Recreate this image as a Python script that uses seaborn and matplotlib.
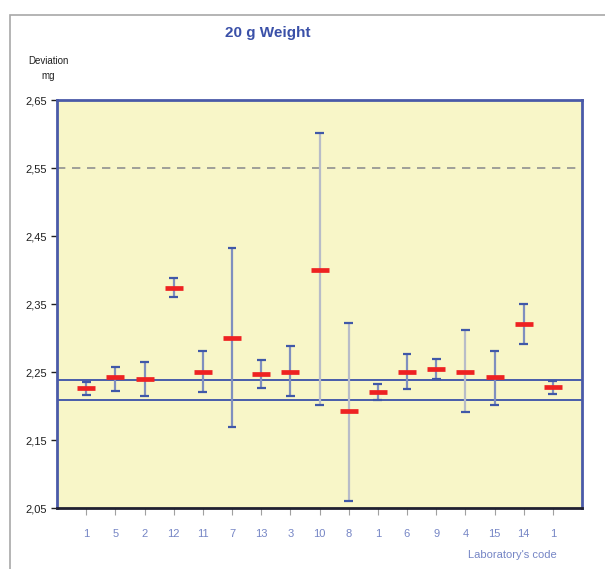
import matplotlib
matplotlib.use("Agg")
import matplotlib.pyplot as plt
import seaborn as sns
import pandas as pd
from matplotlib.patches import Rectangle

labs = ["1", "5", "2", "12", "11", "7", "13", "3", "10", "8", "1", "6", "9", "4", "15", "14", "1"]
means = [2.226, 2.242, 2.240, 2.374, 2.250, 2.300, 2.247, 2.250, 2.400, 2.192, 2.220, 2.250, 2.255, 2.250, 2.242, 2.321, 2.228]
upper = [2.236, 2.258, 2.264, 2.388, 2.281, 2.433, 2.267, 2.288, 2.601, 2.322, 2.232, 2.276, 2.269, 2.312, 2.281, 2.350, 2.237]
lower = [2.216, 2.222, 2.214, 2.361, 2.221, 2.169, 2.227, 2.214, 2.201, 2.061, 2.209, 2.225, 2.240, 2.191, 2.201, 2.291, 2.218]
ref_upper = 2.238
ref_lower = 2.209
limit = 2.55
yticks = [2.05, 2.15, 2.25, 2.35, 2.45, 2.55, 2.65]

df = pd.DataFrame({"pos": range(len(labs)), "lab": labs, "mean": means,
                   "upper": upper, "lower": lower})

sns.set_theme(style="white")
plt.rcParams["font.family"] = ["Liberation Sans Narrow", "Liberation Sans", "DejaVu Sans"]

fig = plt.figure(figsize=(6.05, 5.69), dpi=100)
ax = fig.add_axes([57/605, 1-508/569, 525/605, 408/569])
ax.set_facecolor("#f8f6c8")

# outer frame
fig.patches.append(Rectangle((10/605, -0.01), 1.0, 1-15/569+0.01, transform=fig.transFigure,
                             fill=False, edgecolor="#a8a8a8", linewidth=1.2))

# error bars
line_cols = ["#7f8fbf"] * len(labs)
for i in (8, 9, 13):
    line_cols[i] = "#b8bcc8"
for i, r in df.iterrows():
    ax.vlines(r["pos"], r["lower"], r["upper"], color=line_cols[i], linewidth=1.6, zorder=2)
    ax.hlines([r["lower"], r["upper"]], r["pos"] - 0.15, r["pos"] + 0.15, color="#4058a8",
              linewidth=1.6, zorder=3)

ax.axhline(ref_upper, color="#3a50a8", linewidth=1.3, zorder=1)
ax.axhline(ref_lower, color="#3a50a8", linewidth=1.3, zorder=1)
ax.axhline(limit, color="#909090", linewidth=1.2, linestyle=(0, (5, 4)), zorder=1)

sns.scatterplot(data=df, x="pos", y="mean", marker="_", s=150, color="#ee2222",
                linewidth=3.4, ax=ax, zorder=4, legend=False)

ax.set_xlim(-1, len(labs))
ax.set_ylim(2.05, 2.65)
ax.set_yticks(yticks)
ax.set_yticklabels([f"{v:.2f}".replace(".", ",") for v in yticks], fontsize=8, color="#202020")
ax.set_xticks(df["pos"])
ax.set_xticklabels(labs, fontsize=8, color="#7585c5")
ax.tick_params(axis="y", direction="out", length=4, width=1, color="#202020", left=True, pad=3)
ax.tick_params(axis="x", direction="out", length=5, width=0.8, color="#a0a0a0", bottom=True, pad=10)
ax.set_xlabel("")
ax.set_ylabel("")

for side in ("left", "top", "right"):
    ax.spines[side].set_color("#4a5aa8")
    ax.spines[side].set_linewidth(2)
ax.spines["bottom"].set_color("#202030")
ax.spines["bottom"].set_linewidth(2)

fig.text(268/605, 1-33/569, "20 g Weight", ha="center", va="center", fontsize=11,
         fontweight="bold", color="#3a50a8")
fig.text(48/605, 1-61/569, "Deviation", ha="center", va="center", fontsize=7, color="#202020")
fig.text(48/605, 1-76/569, "mg", ha="center", va="center", fontsize=7, color="#202020")
fig.text(512/605, 1-555/569, "Laboratory's code", ha="center", va="center", fontsize=8,
         color="#7585c5")

fig.savefig("out.png", dpi=100)
